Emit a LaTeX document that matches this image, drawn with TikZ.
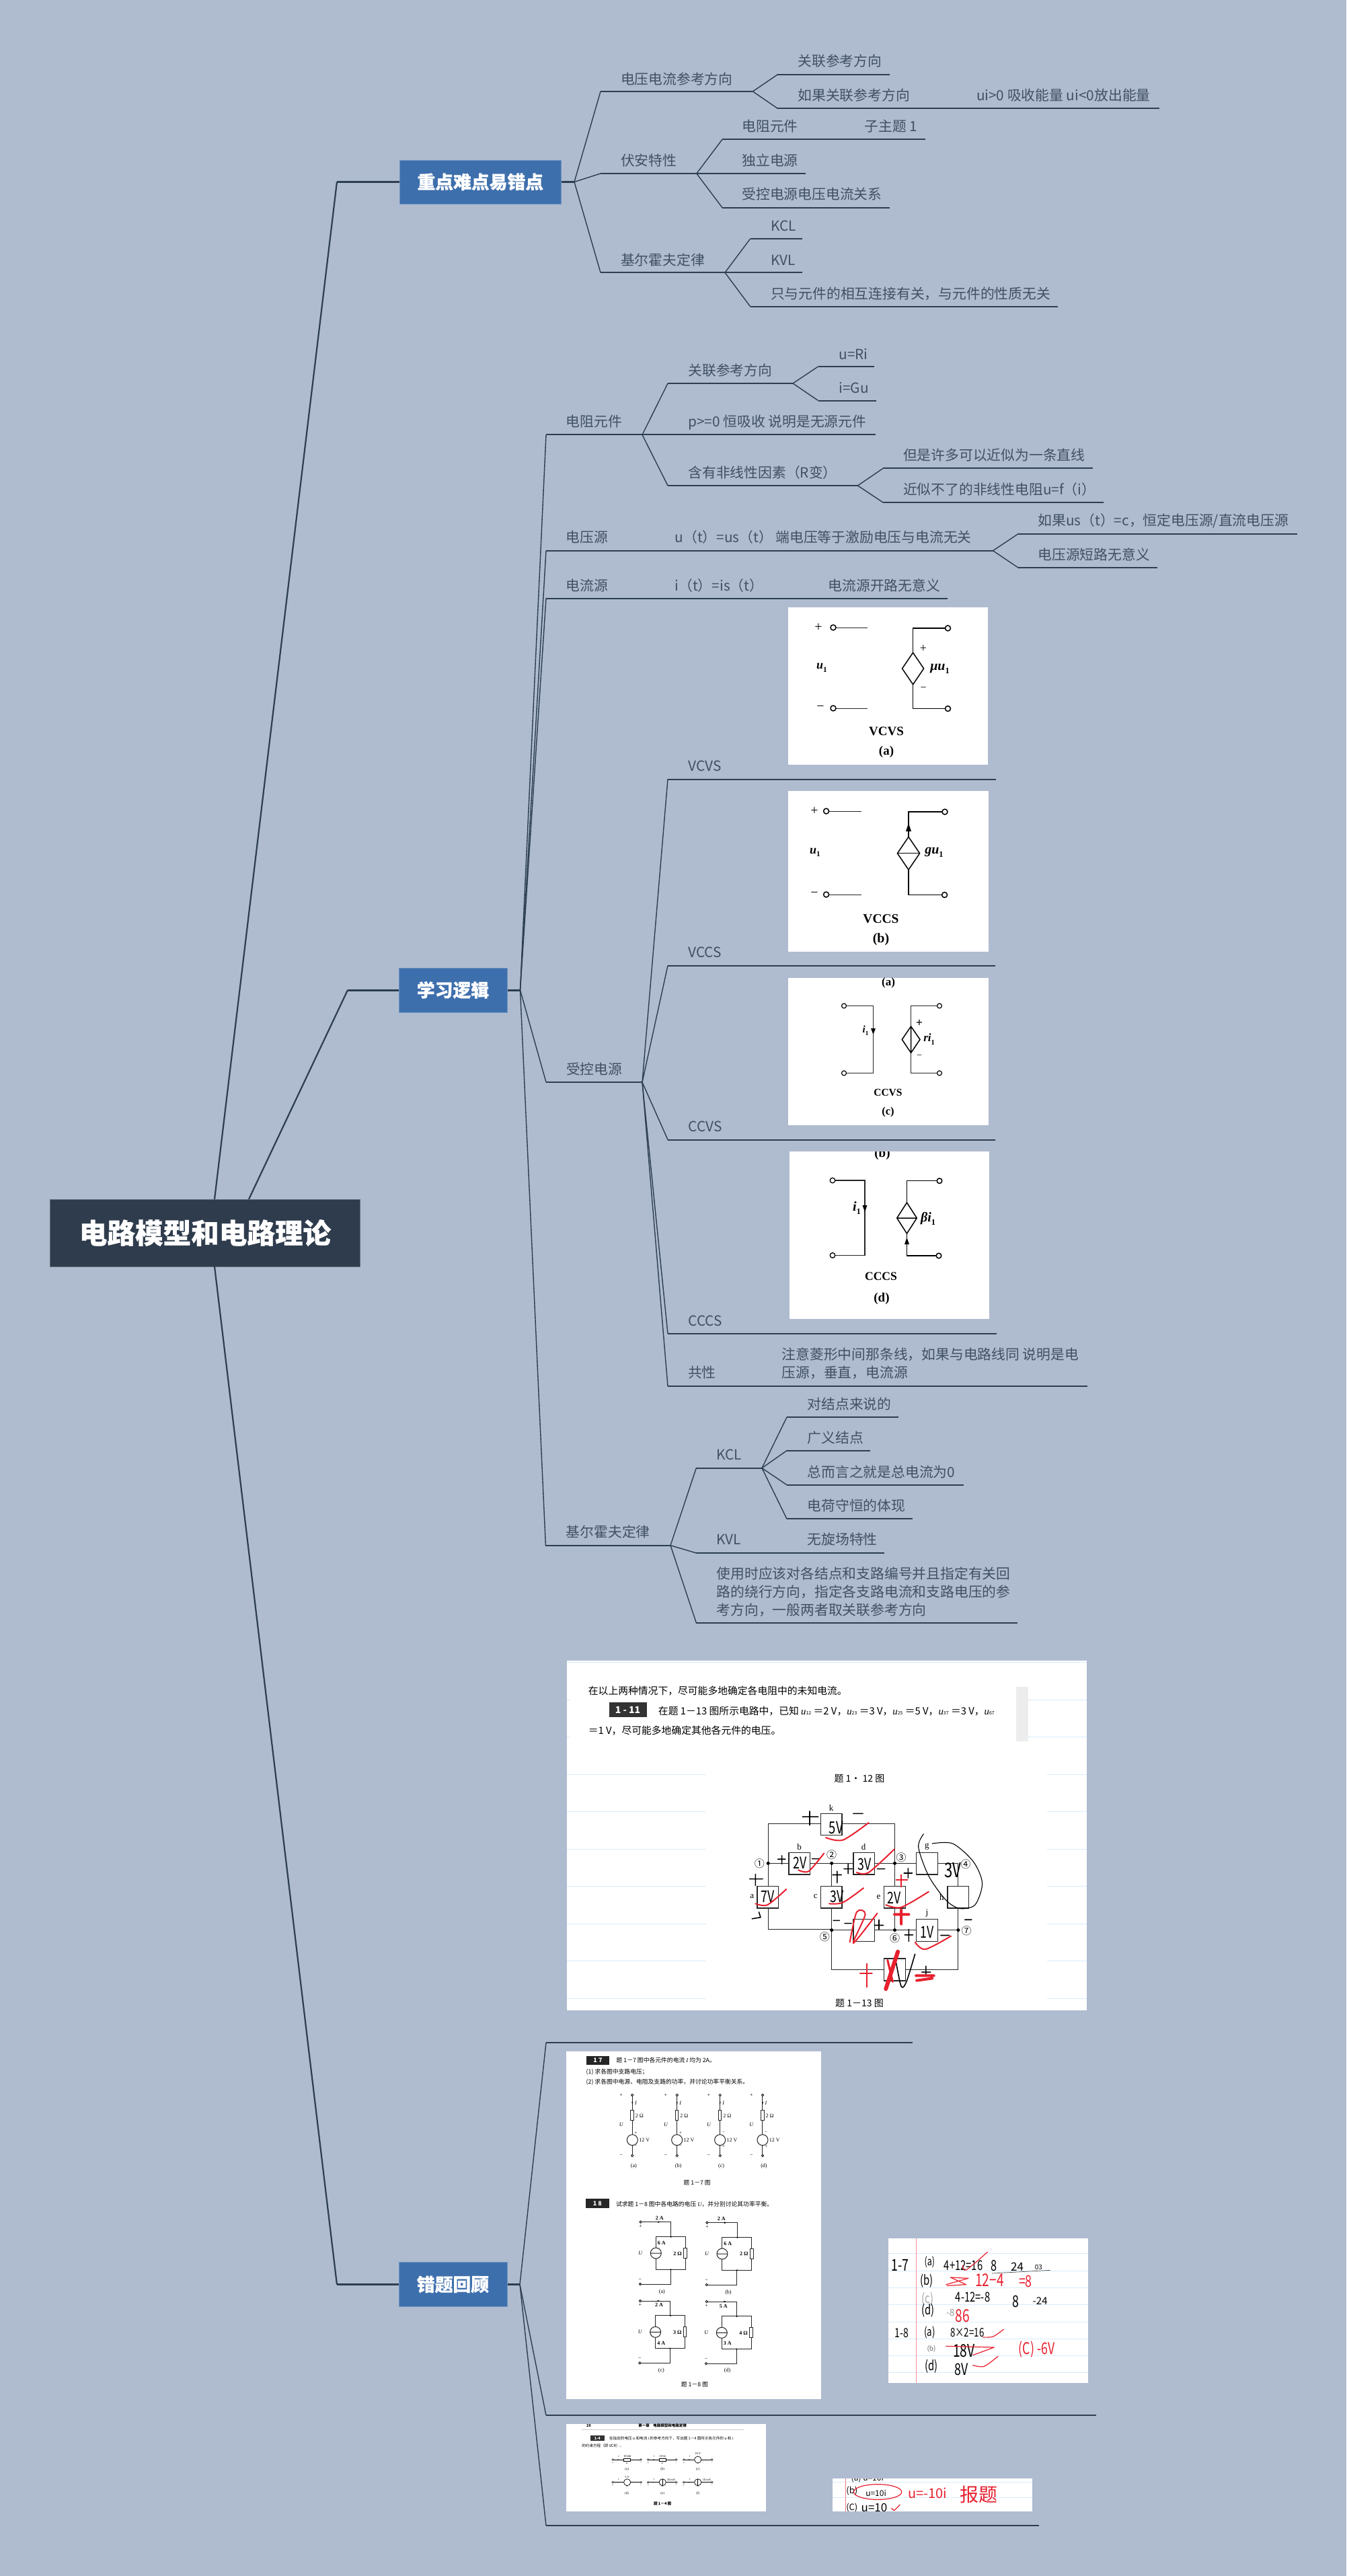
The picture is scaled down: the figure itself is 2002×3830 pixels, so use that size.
\documentclass[tikz,border=0pt]{standalone}
\usepackage{fontspec}
\usepackage{graphicx}
\setmainfont{Noto Sans CJK SC}
\newfontfamily\hvy[BoldFeatures={FakeBold=0.5}]{Noto Sans CJK SC}
\newfontfamily\serif{Liberation Serif}
\definecolor{bgc}{HTML}{AFBBCF}
\definecolor{linec}{HTML}{2C3E50}
\definecolor{labc}{HTML}{415063}
\definecolor{rootc}{HTML}{2F3C4D}
\definecolor{bluec}{HTML}{3E6FAD}
\definecolor{noteb}{HTML}{D8ECFA}
\definecolor{hwred}{HTML}{E8202E}
\newcommand\fsz[1]{\fontsize{#1}{#1}\selectfont}
\newcounter{tn}
\newcommand\tx[4][]{\stepcounter{tn}\node[txt,#1] (t\arabic{tn}) at (#2,#3) {#4};}
\newcommand\cpt[3]{\coordinate (#1) at (#2,#3);}
\newcommand\lab[4]{\node[lbl] (#1) at (#2,#3) {#4};}
\newcommand\branch[3]{\draw[thinlink] (#1)--(#2); \draw[thicklink] (#2)--(#3);}
\newcommand\sbs[2]{\textit{#1}\raisebox{-0.25em}{\scalebox{0.62}{#2}}}
\newcommand\nar[1]{\scalebox{0.74}[1]{#1}}
\newcommand\dia[3]{\draw[wire] (#1,#2-#3)--(#1+#3*0.68,#2)--(#1,#2+#3)--(#1-#3*0.68,#2)--cycle;}
\newcommand\sevenckt[4]{%
 \begin{scope}[shift={(#1,0)}]
  \draw[wthin] (0,290)--(0,352) (0,398)--(0,461) (0,509)--(0,550);
  \draw[wthin,fill=white] (0,285) circle [radius=5] (0,555) circle [radius=5];
  \draw[wthin,fill=white] (-7,352) rectangle (7,398);
  \draw[wthin] (0,485) circle [radius=24];
  \fill (-3,315)--(3,315)--(0,328)--cycle;
  \tx[font=\fsz{8}\serif]{-50}{285}{+}
  \tx[font=\fsz{8}\serif]{-50}{555}{−}
  \tx[font=\fsz{8}\serif\itshape]{-50}{418}{U}
  \tx[font=\fsz{8}\serif\itshape]{15}{322}{I}
  \tx[font=\fsz{8}\serif,anchor=west]{14}{376}{2 Ω}
  \tx[font=\fsz{8}\serif,anchor=west]{30}{485}{12 V}
  \tx[font=\fsz{7}\serif]{16}{455}{#3}
  \tx[font=\fsz{7}\serif]{16}{514}{#4}
  \tx[font=\fsz{8}\serif]{6}{603}{(#2)}
 \end{scope}}
\newcommand\eightckt[2]{%
 \begin{scope}[shift={(#1,#2)}]
  \draw[wthin] (398,851)--(533,851)--(533,917)--(466,917)--(466,966) (466,1014)--(466,1063)--(598,1063)--(598,1012) (598,968)--(598,917)--(533,917) (532,1063)--(532,1128)--(396,1128);
  \draw[wthin,fill=white] (398,851) circle [radius=5] (396,1128) circle [radius=5];
  \draw[wthin,fill=white] (591,968) rectangle (605,1012);
  \draw[wthin] (466,990) circle [radius=24] (442,990)--(490,990);
  \fill (533,917) circle [radius=3.5] (532,1063) circle [radius=3.5];
  \fill (475,847)--(475,855)--(485,851)--cycle;
  \tx[font=\fsz{8}\serif]{398}{870}{+}
  \tx[font=\fsz{8}\serif]{396}{1110}{−}
  \tx[font=\fsz{8}\serif\itshape]{397}{990}{U}
 \end{scope}}
\newcommand\smallckt[3]{%
 \begin{scope}[shift={(#1,#2)}]
  \draw[line width=0.6] (0,0)--(82,0);
  \draw[line width=0.5,fill=white] (0,0) ellipse [x radius=3,y radius=4] (82,0) ellipse [x radius=3,y radius=4];
  \fill (14,-2)--(14,2)--(20,0)--cycle;
  \tx[font=\fsz{4.5}\serif\itshape]{17}{-14}{i}
  \tx[font=\fsz{4.5}\serif]{0}{15}{+}
  \tx[font=\fsz{4.5}\serif\itshape]{41}{16}{u}
  \tx[font=\fsz{4.5}\serif]{82}{15}{−}
  #3
 \end{scope}}
\tikzset{
 x=1pt,y=-1pt,
 txt/.style={inner sep=0pt,outer sep=0pt,text=black},
 lbl/.style={inner sep=0pt,outer sep=0pt,anchor=west,text=labc,font=\fsz{20.8},text height=20pt,text depth=4pt},
 lblm/.style={inner sep=0pt,outer sep=0pt,anchor=west,text=labc,align=left},
 thinlink/.style={draw=linec,line width=1.4},
 thicklink/.style={draw=linec,line width=2},
 toplink/.style={draw=linec,line width=2.2,line join=bevel},
 topbar/.style={draw=linec,line width=3},
 bluebox/.style={fill=bluec,draw=bluec!75!white,line width=1,text=white,inner sep=0pt,font=\fsz{26.8}\hvy\bfseries},
 rootbox/.style={fill=rootc,draw=rootc!75!white,line width=1,text=white,inner sep=0pt,font=\fsz{41.6}\hvy\bfseries},
 wire/.style={draw=black,line width=1.5,line join=miter},
 wthin/.style={draw=black!85,line width=1},
 nb/.style={draw=noteb,line width=1},
 hr/.style={draw=hwred,line width=2,line cap=round,line join=round},
 hk/.style={draw=black,line width=1.6,line cap=round,line join=round},
 imgbox/.style={fill=white,draw=none}
}
\begin{document}
\begin{tikzpicture}
\useasboundingbox (0,0) rectangle (2002,3830);
\fill[bgc] (0,0) rectangle (2002,3830);

% ---- main nodes
\node[rootbox,minimum width=461,minimum height=100] (root) at (305,1833) {电路模型和电路理论};
\node[bluebox,minimum width=240.6,minimum height=65] (b1) at (714.3,270.5) {重点难点易错点};
\node[bluebox,minimum width=161,minimum height=66] (b2) at (673.5,1472) {学习逻辑};
\node[bluebox,minimum width=161,minimum height=66] (b3) at (673.5,3396.5) {错题回顾};
\cpt{r1}{319}{1783}\cpt{r2}{370}{1783}\cpt{r3}{319}{1883}
\cpt{e1}{501}{270.5}\cpt{e2}{517}{1472}\cpt{e3}{501}{3396.5}
\draw[toplink] (r1)--(e1); \draw[topbar] (e1)--(b1.west);
\draw[toplink] (r2)--(e2); \draw[topbar] (e2)--(b2.west);
\draw[toplink] (r3)--(e3); \draw[topbar] (e3)--(b3.west);

% ---- branch 1
\cpt{j1}{854}{270.5}
\draw[topbar] (b1.east)--(j1);
\cpt{a1}{893}{136}\cpt{a1j}{1119.4}{136}
\cpt{a2}{893}{258}\cpt{a2j}{1035.8}{258}
\cpt{a3}{893}{405.3}\cpt{a3j}{1078}{405.3}
\branch{j1}{a1}{a1j}\branch{j1}{a2}{a2j}\branch{j1}{a3}{a3j}
\lab{n1}{923}{117}{电压电流参考方向}
\lab{n2}{923}{238.7}{伏安特性}
\lab{n3}{923}{386}{基尔霍夫定律}
\cpt{a11}{1156.4}{110.7}\cpt{a11e}{1322.5}{110.7}
\cpt{a12}{1156.4}{161.3}\cpt{a12e}{1724}{161.3}
\branch{a1j}{a11}{a11e}\branch{a1j}{a12}{a12e}
\lab{n11}{1186.5}{90.7}{关联参考方向}
\lab{n12}{1186.5}{141.7}{如果关联参考方向}
\lab{n121}{1452}{141.7}{ui>0 吸收能量 ui<0放出能量}
\cpt{a21}{1074}{207.3}\cpt{a21e}{1375.5}{207.3}
\cpt{a22e}{1198}{258}
\cpt{a23}{1074}{308.7}\cpt{a23e}{1322.5}{308.7}
\branch{a2j}{a21}{a21e}\draw[thicklink] (a2j)--(a22e);\branch{a2j}{a23}{a23e}
\lab{n21}{1103.4}{187.3}{电阻元件}
\lab{n211}{1285.4}{187.3}{子主题 1}
\lab{n22}{1103.4}{238.7}{独立电源}
\lab{n23}{1103.4}{288.7}{受控电源电压电流关系}
\cpt{a31}{1115.6}{355}\cpt{a31e}{1193}{355}
\cpt{a32e}{1193}{405.3}
\cpt{a33}{1115.6}{455.7}\cpt{a33e}{1573}{455.7}
\branch{a3j}{a31}{a31e}\draw[thicklink] (a3j)--(a32e);\branch{a3j}{a33}{a33e}
\lab{n31}{1146}{335}{KCL}
\lab{n32}{1146}{386}{KVL}
\lab{n33}{1146}{436}{只与元件的相互连接有关，与元件的性质无关}

% ---- branch 2
\cpt{j2}{773.5}{1472}
\draw[topbar] (b2.east)--(j2);
\cpt{c1}{812}{646.4}\cpt{c1j}{955}{646.4}
\cpt{c2}{812}{818.75}\cpt{c2j}{1476.5}{818.75}
\cpt{c3}{812}{889.7}\cpt{c3e}{1409}{889.7}
\cpt{c4}{812}{1609}\cpt{c4j}{955}{1609}
\cpt{c5}{811.4}{2297.7}\cpt{c5j}{997}{2297.7}
\branch{j2}{c1}{c1j}\branch{j2}{c2}{c2j}\branch{j2}{c3}{c3e}\branch{j2}{c4}{c4j}\branch{j2}{c5}{c5j}
\lab{m1}{841.7}{626.3}{电阻元件}
\lab{m2}{841.7}{798.7}{电压源}
\lab{m3}{841.7}{870.5}{电流源}
\lab{m4}{842}{1589}{受控电源}
\lab{m5}{841.8}{2277.7}{基尔霍夫定律}
\cpt{c11}{993}{570}\cpt{c11j}{1179}{570}
\cpt{c12e}{1302}{646.4}
\cpt{c13}{993}{722}\cpt{c13j}{1275.5}{722}
\branch{c1j}{c11}{c11j}\draw[thicklink] (c1j)--(c12e);\branch{c1j}{c13}{c13j}
\lab{m11}{1023.5}{550.4}{关联参考方向}
\lab{m12}{1023.5}{626.8}{p>=0 恒吸收 说明是无源元件}
\lab{m13}{1023.5}{702}{含有非线性因素（R变）}
\cpt{c111}{1216.5}{545}\cpt{c111e}{1300}{545}
\cpt{c112}{1216.5}{595.5}\cpt{c112e}{1303}{595.5}
\branch{c11j}{c111}{c111e}\branch{c11j}{c112}{c112e}
\lab{m111}{1247.6}{526}{u=Ri}
\lab{m112}{1247.6}{576}{i=Gu}
\cpt{c131}{1313}{696.4}\cpt{c131e}{1625}{696.4}
\cpt{c132}{1313}{747}\cpt{c132e}{1641}{747}
\branch{c13j}{c131}{c131e}\branch{c13j}{c132}{c132e}
\lab{m131}{1343}{676.8}{但是许多可以近似为一条直线}
\lab{m132}{1343}{727.7}{近似不了的非线性电阻u=f（i）}
\lab{m21}{1003.6}{798.7}{u（t）=us（t）}
\lab{m211}{1153.5}{798.7}{端电压等于激励电压与电流无关}
\cpt{c21}{1514}{793.75}\cpt{c21e}{1928.6}{793.75}
\cpt{c22}{1514}{844}\cpt{c22e}{1721}{844}
\branch{c2j}{c21}{c21e}\branch{c2j}{c22}{c22e}
\lab{m212}{1543.5}{773.7}{如果us（t）=c，恒定电压源/直流电压源}
\lab{m213}{1543.5}{824.5}{电压源短路无意义}
\lab{m31}{1003.6}{870.5}{i（t）=is（t）}
\lab{m311}{1231.6}{870.5}{电流源开路无意义}
% controlled sources
\cpt{c41}{993}{1158.5}\cpt{c41e}{1480.5}{1158.5}
\cpt{c42}{993}{1435.6}\cpt{c42e}{1480}{1435.6}
\cpt{c43}{993}{1694.5}\cpt{c43e}{1480}{1694.5}
\cpt{c44}{993}{1982.8}\cpt{c44e}{1482}{1982.8}
\cpt{c45}{993}{2061}\cpt{c45e}{1617}{2061}
\branch{c4j}{c41}{c41e}\branch{c4j}{c42}{c42e}\branch{c4j}{c43}{c43e}\branch{c4j}{c44}{c44e}\branch{c4j}{c45}{c45e}
\lab{m41}{1023.5}{1138.8}{VCVS}
\lab{m42}{1023.5}{1415.6}{VCCS}
\lab{m43}{1023.5}{1674.6}{CCVS}
\lab{m44}{1023.5}{1963.4}{CCCS}
\lab{m45}{1023}{2040.7}{共性}
\node[lblm,font=\fontsize{20.8}{27}\selectfont] (m451) at (1162.7,2027.5) {注意菱形中间那条线，如果与电路线同 说明是电\\压源，垂直，电流源};
% kirchhoff
\cpt{c51}{1035.3}{2182.7}\cpt{c51j}{1133}{2182.7}
\cpt{c52}{1035.3}{2309}\cpt{c52e}{1315}{2309}
\cpt{c53}{1035.3}{2412.7}\cpt{c53e}{1513}{2412.7}
\branch{c5j}{c51}{c51j}\branch{c5j}{c52}{c52e}\branch{c5j}{c53}{c53e}
\lab{m51}{1065.7}{2162.7}{KCL}
\lab{m52}{1065.7}{2288.7}{KVL}
\lab{m521}{1200.6}{2288.7}{无旋场特性}
\node[lblm,font=\fontsize{20.8}{27.2}\selectfont] (m53) at (1065.7,2367) {使用时应该对各结点和支路编号并且指定有关回\\路的绕行方向，指定各支路电流和支路电压的参\\考方向，一般两者取关联参考方向};
\cpt{c511}{1170}{2107}\cpt{c511e}{1335.5}{2107}
\cpt{c512}{1170}{2156.7}\cpt{c512e}{1293.6}{2156.7}
\cpt{c513}{1170}{2207.7}\cpt{c513e}{1432.6}{2207.7}
\cpt{c514}{1170}{2258.3}\cpt{c514e}{1356.8}{2258.3}
\branch{c51j}{c511}{c511e}\branch{c51j}{c512}{c512e}\branch{c51j}{c513}{c513e}\branch{c51j}{c514}{c514e}
\lab{m511}{1200.6}{2087}{对结点来说的}
\lab{m512}{1200.6}{2137}{广义结点}
\lab{m513}{1200.6}{2188}{总而言之就是总电流为0}
\lab{m514}{1200.6}{2238.7}{电荷守恒的体现}

% ---- branch 3
\cpt{j3}{773}{3396.5}
\draw[topbar] (b3.east)--(j3);
\cpt{d1}{812}{3037}\cpt{d1e}{1357}{3037}
\cpt{d2}{812}{3591}\cpt{d2e}{1630}{3591}
\cpt{d3}{812}{3755}\cpt{d3e}{1545}{3755}
\branch{j3}{d1}{d1e}\branch{j3}{d2}{d2e}\branch{j3}{d3}{d3e}

% ---- VCVS figure
\fill[imgbox] (1172,903) rectangle (1469,1137);
\tx[font=\fsz{20}\serif]{1217}{933}{+}
\draw[wthin] (1243,933)--(1290,933) (1243,1053)--(1290,1053);
\draw[wire,fill=white] (1239,933) circle [radius=4] (1239,1053) circle [radius=4];
\draw[wire] (1405,934)--(1357.6,934)--(1357.6,970) (1357.6,1018)--(1357.6,1053.6)--(1405,1053.6);
\dia{1357.6}{994}{23.6}
\draw[wire,fill=white] (1409.5,934) circle [radius=4] (1409.5,1053.6) circle [radius=4];
\tx[font=\fsz{18}\serif]{1373}{964}{+}
\tx[font=\fsz{16}\serif]{1373}{1024.5}{−}
\tx[font=\fsz{18}\serif\bfseries]{1222}{993}{\sbs{u}{1}}
\tx[font=\fsz{20}\serif\bfseries]{1397.5}{994}{\sbs{μu}{1}}
\tx[font=\fsz{20}\serif]{1220}{1053}{−}
\tx[font=\fsz{19}\serif\bfseries]{1318}{1087.5}{VCVS}
\tx[font=\fsz{19}\serif\bfseries]{1318}{1118}{(a)}

% ---- VCCS figure
\fill[imgbox] (1172,1176) rectangle (1469.5,1414.5);
\tx[font=\fsz{20}\serif]{1211}{1206}{+}
\draw[wthin] (1233,1206)--(1280.6,1206) (1233,1330)--(1280.6,1330);
\draw[wire,fill=white] (1228.6,1206) circle [radius=4] (1228.6,1330) circle [radius=4];
\draw[wire] (1401,1207)--(1351,1207)--(1351,1245) (1351,1293)--(1351,1330.5)--(1401,1330.5);
\dia{1351}{1268.7}{24.4}
\draw[wire] (1334.5,1268.7)--(1367.5,1268.7);
\fill (1347,1236)--(1355,1236)--(1351,1224)--cycle;
\draw[wire,fill=white] (1405,1207) circle [radius=4] (1404.6,1330.5) circle [radius=4];
\tx[font=\fsz{20}\serif]{1211}{1330}{−}
\tx[font=\fsz{18}\serif\bfseries]{1212}{1267.6}{\sbs{u}{1}}
\tx[font=\fsz{20}\serif\bfseries]{1389}{1267.6}{\sbs{gu}{1}}
\tx[font=\fsz{19.5}\serif\bfseries]{1310}{1365.7}{VCCS}
\tx[font=\fsz{20}\serif\bfseries]{1310}{1397}{(b)}

% ---- CCVS figure
\fill[imgbox] (1172,1453.7) rectangle (1469.5,1673);
\tx[font=\fsz{17}\serif\bfseries]{1321}{1461}{(a)}
\draw[wthin,line width=1.2] (1255,1495.5)--(1298.5,1495.5)--(1298.5,1595.5)--(1255,1595.5);
\draw[wire,line width=1.2,fill=white] (1255,1495.5) circle [radius=3.5] (1255,1595.5) circle [radius=3.5];
\fill (1295,1529)--(1302,1529)--(1298.5,1538)--cycle;
\tx[font=\fsz{15}\serif\bfseries]{1287}{1532}{\sbs{i}{1}}
\draw[wthin,line width=1.2] (1393,1495.5)--(1354.6,1495.5)--(1354.6,1526) (1354.6,1565.4)--(1354.6,1595.5)--(1393,1595.5);
\draw[wire] (1354.6,1526)--(1368,1545.5)--(1354.6,1565.4)--(1341.3,1545.5)--cycle (1354.6,1526)--(1354.6,1565.4);
\draw[wire,line width=1.2,fill=white] (1397,1495.5) circle [radius=3.5] (1397,1595.5) circle [radius=3.5];
\tx[font=\fsz{18}\serif\bfseries]{1367}{1521}{+}
\tx[font=\fsz{14}\serif]{1367}{1571}{−}
\tx[font=\fsz{17}\serif\bfseries]{1381.6}{1545}{\sbs{ri}{1}}
\tx[font=\fsz{15.5}\serif\bfseries]{1320.4}{1624}{CCVS}
\tx[font=\fsz{16.5}\serif\bfseries]{1320.4}{1653.7}{(c)}

% ---- CCCS figure
\fill[imgbox] (1173.5,1712) rectangle (1471,1961);
\begin{scope}
 \clip (1173.5,1712) rectangle (1471,1961);
 \tx[font=\fsz{19}\serif\bfseries]{1312}{1716}{(b)}
\end{scope}
\draw[wthin,line width=1.3] (1238,1755)--(1286,1755)--(1286,1866.4)--(1238,1866.4);
\draw[wire,line width=1.3,fill=white] (1238,1755) circle [radius=3.8] (1238,1866.4) circle [radius=3.8];
\fill (1282.5,1792)--(1289.5,1792)--(1286,1802)--cycle;
\tx[font=\fsz{20}\serif\bfseries]{1274}{1796.5}{\sbs{i}{1}}
\draw[wire] (1393,1755.7)--(1348.5,1755.7)--(1348.5,1788) (1348.5,1834)--(1348.5,1867)--(1392,1867);
\draw[wire] (1348.5,1788)--(1363.3,1811)--(1348.5,1834)--(1333.7,1811)--cycle (1333.7,1811)--(1363.3,1811);
\fill (1345,1850)--(1352,1850)--(1348.5,1840)--cycle;
\draw[wire,fill=white] (1397,1755.7) circle [radius=3.8] (1396,1867) circle [radius=3.8];
\tx[font=\fsz{20}\serif\bfseries]{1380}{1812}{\sbs{βi}{1}}
\tx[font=\fsz{17.6}\serif\bfseries]{1310}{1898}{CCCS}
\tx[font=\fsz{19}\serif\bfseries]{1311}{1930.7}{(d)}

% ---- large notebook image
\begin{scope}[shift={(830,2450)},xscale=0.5102,yscale=0.3571]
 \fill[imgbox] (25,53) rectangle (1540,1510);
 \draw[nb] (25,60)--(1540,60);
 \foreach \yy in {217,371} {\draw[nb] (25,\yy)--(35,\yy) (1370,\yy)--(1540,\yy);}
 \foreach \yy in {527,681,838,992,1149,1303,1460} {\draw[nb] (25,\yy)--(432,\yy) (1425,\yy)--(1540,\yy);}
 \fill[black!7] (1334,163) rectangle (1370,390);
 \tx[font=\fsz{14.8},anchor=west,text=black]{88}{180}{在以上两种情况下，尽可能多地确定各电阻中的未知电流。}
 \fill[black!80] (148,227) rectangle (258,288);
 \tx[font=\fsz{14}\bfseries,text=white]{203}{258}{1 - 11}
 \tx[font=\fsz{14.8},anchor=west,text=black]{292}{262}{在题 1－13 图所示电路中，已知 {\serif\itshape u}{\fsz{7}12} ＝2 V，{\serif\itshape u}{\fsz{7}23} ＝3 V，{\serif\itshape u}{\fsz{7}25} ＝5 V，{\serif\itshape u}{\fsz{7}37} ＝3 V，{\serif\itshape u}{\fsz{7}67}}
 \tx[font=\fsz{14.8},anchor=west,text=black]{88}{345}{＝1 V，尽可能多地确定其他各元件的电压。}
 \tx[font=\fsz{14},text=black]{878}{545}{题 1· 12 图}
 \tx[font=\fsz{14},text=black]{878}{1480}{题 1－13 图}
 % circuit wires
 \draw[wthin] (765,733)--(612,733)--(612,992) (612,1083)--(612,1172)--(797,1172)
   (827,733)--(981,733)--(981,992) (981,1083)--(981,1175)
   (612,897)--(672,897) (734,897)--(860,897) (922,897)--(1044,897) (1106,897)--(1166,897)--(1166,992)
   (1166,1083)--(1166,1340)--(1012,1340) (950,1340)--(797,1340)--(797,1083) (797,897)--(797,992)
   (797,1175)--(860,1175) (922,1175)--(1044,1175) (1106,1175)--(1166,1175);
 \foreach \bx/\by/\bh in {765/690/90,672/852/92,860/852/92,1044/852/92,580/992/91,765/992/91,950/992/91,1135/992/91,860/1130/92,1044/1130/92,950/1294/92}
  {\draw[wthin,line width=1.5] (\bx,\by) rectangle (\bx+62,\by+\bh);}
 \foreach \dx/\dy in {612/897,797/897,981/897,797/1175,981/1175,1166/1175}
  {\fill (\dx,\dy) ellipse [x radius=5,y radius=7];}
 \tx[font=\fsz{13}\serif]{796}{667}{k}
 \tx[font=\fsz{13}\serif]{703}{828}{b}
 \tx[font=\fsz{13}\serif]{890}{828}{d}
 \tx[font=\fsz{13}\serif]{1075}{828}{g}
 \tx[font=\fsz{13}\serif]{565}{1035}{a}
 \tx[font=\fsz{13}\serif]{750}{1035}{c}
 \tx[font=\fsz{13}\serif]{934}{1037}{e}
 \tx[font=\fsz{13}\serif]{1118}{1038}{h}
 \tx[font=\fsz{13}\serif]{1075}{1105}{j}
 \tx[font=\fsz{15}]{587}{897}{①}
 \tx[font=\fsz{15}]{797}{862}{②}
 \tx[font=\fsz{15}]{1000}{873}{③}
 \tx[font=\fsz{15}]{1188}{900}{④}
 \tx[font=\fsz{15}]{777}{1203}{⑤}
 \tx[font=\fsz{15}]{981}{1210}{⑥}
 \tx[font=\fsz{15}]{1190}{1178}{⑦}
 % handwriting
 \tx[font=\fsz{25}]{810}{748}{\nar{5V}}
 \tx[font=\fsz{24}]{705}{895}{\nar{2V}}
 \tx[font=\fsz{24}]{893}{900}{\nar{3V}}
 \tx[font=\fsz{30}]{1150}{925}{\nar{3V}}
 \tx[font=\fsz{24}]{611}{1035}{\nar{7V}}
 \tx[font=\fsz{24}]{812}{1035}{\nar{3V}}
 \tx[font=\fsz{24}]{980}{1040}{\nar{2V}}
 \tx[font=\fsz{24}]{1075}{1185}{\nar{1V}}
 \draw[hk] (712,703)--(758,703) (733,680)--(733,738) (860,690)--(888,690)
  (640,880)--(662,880) (652,865)--(652,900) (740,878)--(760,878)
  (833,920)--(857,920) (845,900)--(845,940) (930,920)--(952,920)
  (800,945)--(826,945) (813,930)--(813,978) (1008,938)--(1032,938) (1020,918)--(1020,958)
  (558,962)--(596,962) (575,942)--(575,990) (565,1128)--(590,1122) (590,1122)--(585,1100)
  (802,1135)--(820,1135) (835,1147)--(855,1147) (922,1155)--(948,1155) (935,1132)--(935,1172)
  (1010,1195)--(1034,1195) (1022,1172)--(1022,1222) (1115,1197)--(1140,1197) (1185,1132)--(1205,1132)
  (1060,1350)--(1085,1350) (1072,1325)--(1072,1365);
 \draw[hk] plot[smooth] coordinates {(985,1310) (1000,1410) (1015,1390) (1040,1275)};
 \draw[hk,line width=1.1] plot[smooth] coordinates {(1065,775) (1050,830) (1080,950) (1130,1050) (1170,1085) (1215,1070) (1236,980) (1210,890) (1150,815) (1090,815)};
 \draw[hr] plot[smooth] coordinates {(780,790) (830,800) (905,728)};
 \draw[hr] plot[smooth] coordinates {(700,925) (730,930) (775,855)};
 \draw[hr] plot[smooth] coordinates {(870,935) (905,935) (980,838)};
 \draw[hr] plot[smooth] coordinates {(790,1065) (830,1060) (890,1000)};
 \draw[hr] plot[smooth] coordinates {(575,1065) (610,1070) (665,1005)};
 \draw[hr] plot[smooth] coordinates {(955,1070) (1000,1080) (1080,1015)};
 \draw[hr] plot[smooth] coordinates {(1040,1225) (1070,1255) (1145,1200)};
 \draw[hr] plot[smooth] coordinates {(850,1225) (870,1100) (895,1110) (860,1230) (930,1105)};
 \draw[hr,line width=6] (955,1420)--(990,1265);
 \draw[hr,line width=3] (960,1300)--(975,1390);
 \draw[hr] (985,965)--(1018,965) (1000,945)--(1000,995) (880,1355)--(915,1355) (900,1315)--(900,1412);
 \draw[hr,line width=4] (980,1110)--(1022,1110) (1000,1090)--(1000,1150) (1043,1365)--(1095,1365) (1045,1385)--(1090,1376);
\end{scope}

% ---- problem image 1-7 / 1-8
\begin{scope}[shift={(820,3020)},xscale=0.3333,yscale=0.3333]
 \fill[imgbox] (66,91) rectangle (1204,1641);
 \fill[black!85] (156,110) rectangle (258,150);
 \tx[font=\fsz{9}\bfseries,text=white]{207}{130}{1 7}
 \tx[font=\fsz{8.8},anchor=west,text=black]{290}{128}{题 1－7 图中各元件的电流 {\serif\itshape I} 均为 2A。}
 \tx[font=\fsz{8.8},anchor=west,text=black]{155}{181}{(1) 求各图中支路电压；}
 \tx[font=\fsz{8.8},anchor=west,text=black]{155}{226}{(2) 求各图中电源、电阻及支路的功率，并讨论功率平衡关系。}
 \sevenckt{361}{a}{+}{−}
 \sevenckt{560}{b}{+}{−}
 \sevenckt{752}{c}{−}{+}
 \sevenckt{942}{d}{−}{+}
 \tx[font=\fsz{8.8}]{650}{676}{题 1－7 图}
 \fill[black!85] (153,748) rectangle (258,788);
 \tx[font=\fsz{9}\bfseries,text=white]{205}{769}{1 8}
 \tx[font=\fsz{8.8},anchor=west,text=black]{288}{771}{试求题 1－8 图中各电路的电压 {\serif\itshape U}，并分别讨论其功率平衡。}
 \eightckt{0}{0}
 \eightckt{296}{3}
 \eightckt{-2}{352}
 \eightckt{294}{355}
 \tx[font=\fsz{8}\serif\bfseries]{482}{835}{2 A}
 \tx[font=\fsz{8}\serif\bfseries]{491}{946}{6 A}
 \tx[font=\fsz{8}\serif\bfseries]{563}{992}{2 Ω}
 \tx[font=\fsz{8}\serif]{493}{1163}{(a)}
 \tx[font=\fsz{8}\serif\bfseries]{758}{838}{2 A}
 \tx[font=\fsz{8}\serif\bfseries]{787}{949}{6 A}
 \tx[font=\fsz{8}\serif\bfseries]{859}{994}{2 Ω}
 \tx[font=\fsz{8}\serif]{789}{1166}{(b)}
 \tx[font=\fsz{8}\serif\bfseries]{480}{1222}{2 A}
 \tx[font=\fsz{8}\serif\bfseries]{490}{1392}{4 A}
 \tx[font=\fsz{8}\serif\bfseries]{562}{1345}{3 Ω}
 \tx[font=\fsz{8}\serif]{490}{1515}{(c)}
 \tx[font=\fsz{8}\serif\bfseries]{767}{1226}{5 A}
 \tx[font=\fsz{8}\serif\bfseries]{785}{1393}{3 A}
 \tx[font=\fsz{8}\serif\bfseries]{857}{1348}{4 Ω}
 \tx[font=\fsz{8}\serif]{785}{1515}{(d)}
 \tx[font=\fsz{8.8}]{639}{1577}{题 1－8 图}
\end{scope}

% ---- handwritten answer 1-7 / 1-8
\begin{scope}[shift={(1300,3300)},xscale=0.3333,yscale=0.3333]
 \fill[imgbox] (63,85) rectangle (955,728);
 \foreach \yy in {152,228,304,380,456,532,607,683} {\draw[nb] (63,\yy)--(955,\yy);}
 \draw[draw=hwred!50,line width=0.8] (187,85)--(187,728);
 \tx[font=\fsz{24}]{115}{205}{\nar{1-7}}
 \tx[font=\fsz{17}]{247}{190}{\nar{(a)}}
 \tx[font=\fsz{20}]{398}{205}{\nar{4+12=16}}
 \tx[font=\fsz{22}]{535}{205}{\nar{8}}
 \tx[font=\fsz{17}]{638}{210}{24}
 \tx[font=\fsz{10}]{733}{212}{03}
 \draw[black!70,line width=0.7] (525,240)--(785,226);
 \tx[font=\fsz{20}]{235}{275}{\nar{(b)}}
 \tx[font=\fsz{26},text=hwred]{515}{270}{\nar{12−4}}
 \tx[font=\fsz{24},text=hwred]{675}{275}{\nar{=8}}
 \draw[hr,line width=1.2] (320,290)--(420,262)--(340,258)--(410,290)--(325,295);
 \tx[font=\fsz{20},text=black!35]{238}{355}{\nar{(c)}}
 \tx[font=\fsz{20}]{440}{347}{\nar{4-12=-8}}
 \tx[font=\fsz{24}]{632}{365}{\nar{8}}
 \tx[font=\fsz{15}]{740}{362}{-24}
 \tx[font=\fsz{20}]{240}{405}{\nar{(d)}}
 \tx[font=\fsz{14},text=black!40]{340}{415}{-8}
 \tx[font=\fsz{26},text=hwred]{395}{430}{\nar{86}}
 \tx[font=\fsz{19}]{122}{505}{\nar{1-8}}
 \tx[font=\fsz{18}]{247}{505}{\nar{(a)}}
 \tx[font=\fsz{18}]{415}{505}{\nar{8×2=16}}
 \tx[font=\fsz{10},text=black!60]{255}{578}{(b)}
 \tx[font=\fsz{26}]{400}{585}{\nar{18V}}
 \tx[font=\fsz{24},text=hwred]{725}{578}{\nar{(C) -6V}}
 \tx[font=\fsz{20}]{255}{655}{\nar{(d)}}
 \tx[font=\fsz{24}]{390}{670}{\nar{8V}}
 \draw[hr,line width=1.2] plot[smooth] coordinates {(395,205) (410,225) (505,145)};
 \draw[hr,line width=1.2] plot[smooth] coordinates {(485,525) (530,522) (577,490)};
 \draw[hr,line width=1.2] (320,565)--(535,570)--(440,605);
 \draw[hr,line width=1.2] plot[smooth] coordinates {(440,650) (490,655) (552,610)};
\end{scope}

% ---- lower images
\begin{scope}[shift={(800,3570)},xscale=0.5102,yscale=0.3333]
 \fill[imgbox] (82,102) rectangle (665,491);
 \tx[font=\fsz{5.5}\bfseries]{148}{108}{26}
 \tx[font=\fsz{5.5}\bfseries]{363}{108}{第一章　电路模型和电路定律}
 \draw[black!20,line width=1.2] (128,127)--(600,127);
 \fill[black!80] (152,154) rectangle (195,178);
 \tx[font=\fsz{5.5}\bfseries,text=white]{173}{166}{1-4}
 \tx[font=\fsz{5.6},anchor=west]{208}{165}{在指定的电压 u 和电流 i 的参考方向下，写出题 1－4 图所示各元件的 u 和 i}
 \tx[font=\fsz{5.6},anchor=west]{128}{200}{的约束方程（即 VCR）。}
 \smallckt{218}{261}{\draw[line width=.6,fill=white] (32,-6) rectangle (51,6); \tx[font=\fsz{4.5}\serif]{42}{-15}{10 kΩ}}
 \smallckt{321}{261}{\draw[line width=.6,fill=white] (33,-6) rectangle (51,6); \tx[font=\fsz{4.5}\serif]{42}{-15}{10 Ω}}
 \smallckt{425}{261}{\draw[line width=.7,fill=white] (41,0) ellipse [x radius=10,y radius=15]; \tx[font=\fsz{4.5}\serif]{41}{-27}{10 V}}
 \smallckt{218}{362}{\draw[line width=.7,fill=white] (42,0) ellipse [x radius=10,y radius=15]; \tx[font=\fsz{4.5}\serif]{42}{-24}{5 V}}
 \smallckt{321}{362}{\draw[line width=.7,fill=white] (42,0) ellipse [x radius=10,y radius=15]; \draw[line width=.6] (42,-15)--(42,15); \tx[font=\fsz{4.5}\serif]{67}{-11}{10 mA}}
 \smallckt{425}{362}{\draw[line width=.7,fill=white] (41,0) ellipse [x radius=10,y radius=15]; \draw[line width=.6] (41,-15)--(41,15); \tx[font=\fsz{4.5}\serif]{67}{-11}{10 mA}}
 \tx[font=\fsz{5}\serif]{259}{305}{(a)}
 \tx[font=\fsz{5}\serif]{363}{305}{(b)}
 \tx[font=\fsz{5}\serif]{466}{305}{(c)}
 \tx[font=\fsz{5}\serif]{259}{411}{(d)}
 \tx[font=\fsz{5}\serif]{363}{411}{(e)}
 \tx[font=\fsz{5}\serif]{466}{411}{(f)}
 \tx[font=\fsz{5.6}\bfseries]{363}{456}{题 1－4 图}

 \fill[imgbox] (858,345) rectangle (1441,491);
 \begin{scope}
  \clip (858,345) rectangle (1441,491);
  \draw[nb] (858,360)--(1441,360) (858,430)--(1441,430);
  \draw[draw=hwred!60,line width=0.7] (897,345)--(897,491);
  \tx[font=\fsz{12}]{960}{345}{(a) u=10i}
  \tx[font=\fsz{13}]{915}{400}{(b)}
  \tx[font=\fsz{12}]{985}{410}{u=10i}
  \draw[hr,line width=1.2] (990,405) ellipse [x radius=70,y radius=34];
  \tx[font=\fsz{20},text=hwred]{1135}{410}{u=-10i}
  \tx[font=\fsz{28},text=hwred]{1285}{418}{报题}
  \tx[font=\fsz{13}]{915}{475}{(C)}
  \tx[font=\fsz{17}]{980}{475}{u=10}
  \draw[hr,line width=1.2] (1030,478)--(1038,488)--(1055,462);
 \end{scope}
\end{scope}
\end{tikzpicture}
\end{document}
